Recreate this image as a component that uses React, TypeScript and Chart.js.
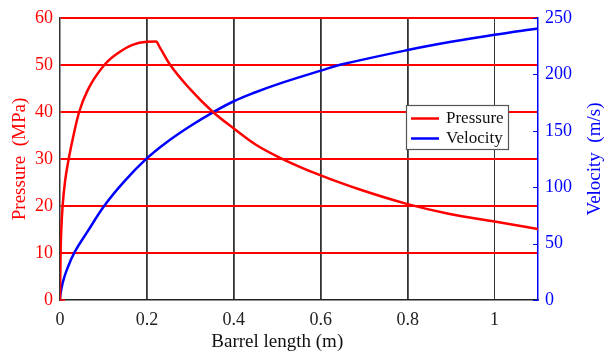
import React, { useEffect, useRef } from "react";
import { Chart, registerables } from "chart.js";

Chart.register(...registerables);

const pressureX = [0, 0.0008, 0.0015, 0.003, 0.006, 0.012, 0.02, 0.031, 0.044, 0.064, 0.102, 0.133, 0.167, 0.2, 0.221, 0.23, 0.253, 0.3, 0.352, 0.4, 0.45, 0.51, 0.6, 0.69, 0.8, 0.897, 1.0, 1.1];
const pressureY = [0, 6, 10.6, 15, 20, 25.5, 30, 35, 40, 44.7, 50, 52.5, 54.3, 54.95, 55, 53.7, 50.1, 44.8, 40, 36.5, 33.1, 30.1, 26.5, 23.5, 20.4, 18.3, 16.7, 15.1];

const velocityX = [0, 0.001, 0.006, 0.015, 0.033, 0.064, 0.102, 0.148, 0.199, 0.244, 0.3, 0.352, 0.4, 0.45, 0.5, 0.6, 0.647, 0.8, 0.9, 1.0, 1.1];
const velocityY = [0, 5, 15, 26, 42, 61, 83.6, 105.2, 125.3, 139.5, 154.3, 166.4, 176.2, 184.2, 191.2, 203.3, 208.7, 221.6, 228.9, 235.2, 240.8];

const seriesNames = ["Pressure", "Velocity"];
const xTitle = "Barrel length (m)";
const yLeftTitle = "Pressure  (MPa)";
const yRightTitle = "Velocity  (m/s)";

const FONT = "'Liberation Serif', 'Times New Roman', serif";

const overlayPlugin = {
  id: "overlay",
  afterDraw(chart: any) {
    const ctx = chart.ctx;
    const area = chart.chartArea;
    const xs = chart.scales.x;
    const y1 = chart.scales.y1;
    const y = chart.scales.y;
    ctx.save();
    // inward ticks on right axis
    ctx.strokeStyle = "#0000ff";
    ctx.lineWidth = 1;
    y1.ticks.forEach((t: any) => {
      const py = Math.round(y1.getPixelForValue(t.value)) + 0.5;
      ctx.beginPath();
      ctx.moveTo(area.right - 5, py);
      ctx.lineTo(area.right, py);
      ctx.stroke();
    });
    // small red tick at bottom-left
    ctx.strokeStyle = "#ff0000";
    ctx.lineWidth = 1.5;
    const p0 = y.getPixelForValue(0);
    ctx.beginPath();
    ctx.moveTo(area.left, p0);
    ctx.lineTo(area.left + 5, p0);
    ctx.stroke();

    // x title
    ctx.fillStyle = "#111";
    ctx.font = `19px ${FONT}`;
    ctx.textAlign = "center";
    ctx.textBaseline = "middle";
    const cx = (xs.getPixelForValue(0) + xs.getPixelForValue(1)) / 2;
    ctx.fillText(xTitle, cx, 342);

    // right title rotated
    ctx.save();
    ctx.translate(595, (area.top + area.bottom) / 2);
    ctx.rotate(-Math.PI / 2);
    ctx.fillStyle = "#0000ff";
    ctx.fillText(yRightTitle, 0, 0);
    ctx.restore();

    // legend box
    const bx = 406.5, by = 105.5, bw = 102, bh = 44;
    ctx.fillStyle = "#ffffff";
    ctx.fillRect(bx, by, bw, bh);
    ctx.strokeStyle = "#555";
    ctx.lineWidth = 1.2;
    ctx.strokeRect(bx, by, bw, bh);
    const colors = ["#ff0000", "#0000ff"];
    const rows = [118.5, 138.5];
    ctx.font = `17px ${FONT}`;
    ctx.textAlign = "left";
    ctx.textBaseline = "middle";
    rows.forEach((ry, i) => {
      ctx.strokeStyle = colors[i];
      ctx.lineWidth = 2.5;
      ctx.beginPath();
      ctx.moveTo(411, ry);
      ctx.lineTo(439, ry);
      ctx.stroke();
      ctx.fillStyle = "#111";
      ctx.fillText(seriesNames[i], 446, ry);
    });
    ctx.restore();
  },
};

export default function App() {
  const ref = useRef<HTMLCanvasElement>(null);
  useEffect(() => {
    const canvas = ref.current!;
    const pData = pressureX.map((x, i) => ({ x, y: pressureY[i] }));
    const vData = velocityX.map((x, i) => ({ x, y: velocityY[i] }));
    const chart = new Chart(canvas, {
      type: "line",
      data: {
        datasets: [
          {
            label: seriesNames[0],
            data: pData,
            borderColor: "#ff0000",
            borderWidth: 2.5,
            pointRadius: 0,
            cubicInterpolationMode: "monotone",
            yAxisID: "y",
          },
          {
            label: seriesNames[1],
            data: vData,
            borderColor: "#0000ff",
            borderWidth: 2.5,
            pointRadius: 0,
            tension: 0.4,
            yAxisID: "y1",
          },
        ],
      },
      options: {
        animation: false,
        responsive: false,
        maintainAspectRatio: false,
        layout: { padding: { top: 18, left: 0, right: 0, bottom: 0 } },
        plugins: { legend: { display: false }, tooltip: { enabled: false } },
        scales: {
          x: {
            type: "linear",
            min: 0,
            max: 1.1,
            ticks: {
              stepSize: 0.2,
              includeBounds: false,
              color: "#222",
              font: { family: FONT, size: 18 },
              padding: 9,
              maxRotation: 0,
              callback: (v: any) => String(Math.round(Number(v) * 10) / 10),
            },
            grid: {
              color: (c: any) => (c.tick && Math.abs(c.tick.value) < 1e-9 ? "rgba(0,0,0,0)" : "#333333"),
              lineWidth: (c: any) => (c.tick && Math.abs(c.tick.value - 1) < 1e-6 ? 1 : 1.8),
              drawTicks: false,
            },
            border: { color: "#222", width: 1.5 },
            afterFit: (s: any) => {
              s.height = 54;
            },
          },
          y: {
            position: "left",
            min: 0,
            max: 60,
            ticks: {
              stepSize: 10,
              color: "#ff0000",
              font: { family: FONT, size: 18 },
              padding: 7,
            },
            grid: {
              color: (c: any) => (c.tick && c.tick.value === 0 ? "rgba(0,0,0,0)" : "#ff0000"),
              lineWidth: 2,
              drawTicks: false,
            },
            border: { color: "#333", width: 1.5 },
            title: {
              display: true,
              text: yLeftTitle,
              color: "#ff0000",
              font: { family: FONT, size: 19 },
              padding: { top: 9, bottom: 0 },
            },
            afterFit: (s: any) => {
              s.width = 60;
            },
          },
          y1: {
            position: "right",
            min: 0,
            max: 250,
            ticks: {
              stepSize: 50,
              color: "#0000ff",
              font: { family: FONT, size: 18 },
              padding: 7,
            },
            grid: { drawOnChartArea: false, drawTicks: false },
            border: { color: "#0000ff", width: 1.5 },
            afterFit: (s: any) => {
              s.width = 68;
            },
          },
        },
      },
      plugins: [overlayPlugin],
    });
    return () => chart.destroy();
  }, []);
  return (
    <div style={{ position: "fixed", left: 0, top: 0, width: 606, height: 354, background: "#fff" }}>
      <canvas ref={ref} width={606} height={354} style={{ width: 606, height: 354, display: "block" }} />
    </div>
  );
}
